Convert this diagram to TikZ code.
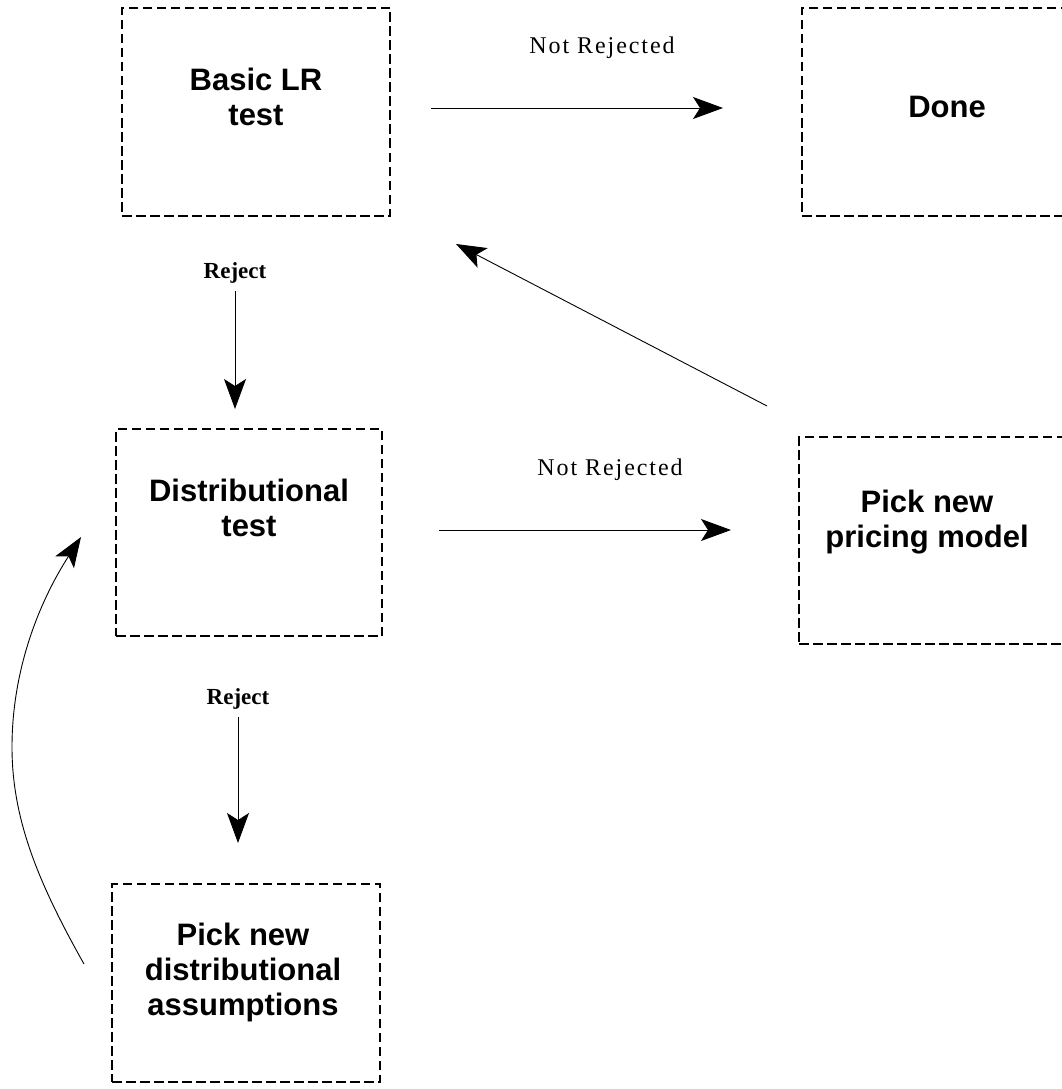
\documentclass[tikz,border=0pt]{standalone}
\usepackage{fontspec}
\setmainfont{Liberation Serif}
\newfontfamily\boxfont{Liberation Sans}
\newfontfamily\edgefont[LetterSpace=8]{Liberation Serif}
\usetikzlibrary{arrows.meta, positioning}

\begin{document}
\begin{tikzpicture}[
        x=1pt, y=1pt,
        box/.style={draw, line width=2pt, dash pattern=on 9.5pt off 4.5pt, minimum width=268pt, minimum height=208pt, inner sep=0pt},
        boxtext/.style={align=center, font=\boxfont\bfseries\fontsize{31}{35}\selectfont},
        notrej/.style={font=\edgefont\fontsize{24}{28}\selectfont},
        rej/.style={font=\bfseries\fontsize{23}{27}\selectfont},
        arr/.style={-{Stealth[length=30pt, width=22pt, inset=7pt]}, line width=0.9pt}
        ]
        \useasboundingbox (0,0) rectangle (1061,-1089);
        \node[box] (lr) at (256,-112) {};
        \node[box, right=410pt of lr] (done) {};
        \node[box, minimum width=266pt, minimum height=207pt, below=211pt of lr, xshift=-7pt] (dist) {};
        \node[box, minimum height=207pt, right=415pt of dist, yshift=-8pt] (pricing) {};
        \node[box, minimum height=198pt, below=246pt of dist, xshift=-3pt] (assump) {};
        \node[boxtext] (lrtext) at ([yshift=15pt]lr.center) {Basic LR\\test};
        \node[boxtext] (donetext) at ([xshift=11pt, yshift=5pt]done.center) {Done};
        \node[boxtext] (disttext) at ([yshift=25pt]dist.center) {Distributional\\test};
        \node[boxtext] (pricingtext) at ([xshift=-6pt, yshift=18pt]pricing.center) {Pick new\\pricing model};
        \node[boxtext] (assumptext) at ([xshift=-3pt, yshift=11pt]assump.center) {Pick new\\distributional\\assumptions};
        \coordinate (bend) at (12,-747);
        \draw[arr] ([xshift=40pt, yshift=4pt]lr.east) -- node[notrej, above=46pt, xshift=25pt] (nr1) {Not Rejected} ([xshift=-78pt, yshift=4pt]done.west);
        \draw[arr] ([xshift=56pt, yshift=2.5pt]dist.east) -- node[notrej, above=46pt, xshift=25pt] (nr2) {Not Rejected} ([xshift=-67pt, yshift=10.5pt]pricing.west);
        \draw[arr] ([xshift=-21pt, yshift=-74pt]lr.south) -- node[rej, at start, above=4pt] (rj1) {Reject} ([xshift=-14pt, yshift=19pt]dist.north);
        \draw[arr] ([xshift=-11pt, yshift=-80pt]dist.south) -- node[rej, at start, above=4pt] (rj2) {Reject} ([xshift=-8pt, yshift=40pt]assump.north);
        \draw[arr] ([xshift=-166pt, yshift=30pt]pricing.north) -- ([xshift=65pt, yshift=-27pt]lr.south east);
        \draw[arr] ([xshift=-27pt, yshift=19pt]assump.west) .. controls +(-45,80) and +(0,-73) .. (bend) .. controls +(0,77) and +(-42,-65) .. ([xshift=-34pt, yshift=-4.5pt]dist.west);
    \end{tikzpicture}
\end{document}
